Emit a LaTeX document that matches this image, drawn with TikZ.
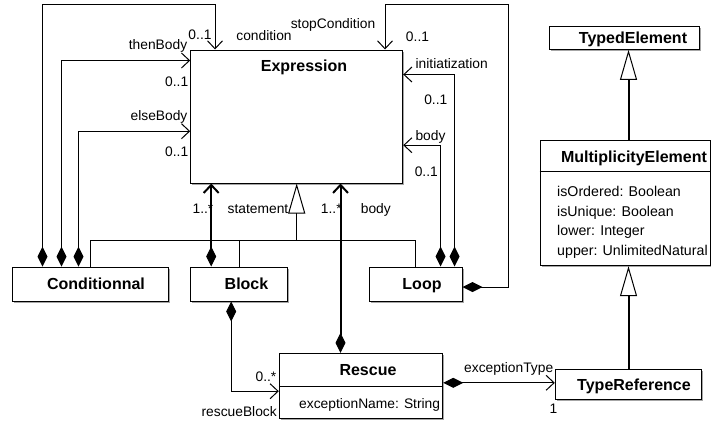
\documentclass[tikz,border=0pt]{standalone}
\usepackage{fontspec}
\setmainfont{Liberation Sans}
\usetikzlibrary{arrows.meta,shadows,calc}
\begin{document}
\begin{tikzpicture}[x=1pt,y=-1pt,
 cls/.style={draw, line width=1pt, fill=white, rectangle, inner sep=0pt,
   drop shadow={shadow xshift=1.5pt,shadow yshift=-1.5pt,opacity=0.35,fill=black}},
 ttl/.style={font=\fontsize{16}{18}\selectfont\bfseries, inner sep=0pt, text height=11.5pt, text depth=0pt},
 attr/.style={font=\fontsize{14.2}{16}\selectfont, inner sep=0pt, text height=10.2pt, text depth=0pt, anchor=west},
 lab/.style={font=\fontsize{13.8}{16}\selectfont, inner sep=0pt, text height=9.9pt, text depth=0pt},
 comp/.style={draw, line width=1pt, {Diamond[length=20pt,width=10pt,line width=1pt]}-{Straight Barb[length=8pt,width=15pt]}},
 compk/.style={comp, line width=2pt},
 gen/.style={draw, line width=1pt, -{Triangle[length=30pt,width=17pt,fill=white,line width=1pt]}},
 genk/.style={gen, line width=2pt},
 plain/.style={draw, line width=1pt}
]
\fill[white] (0,0) rectangle (711,421);
\useasboundingbox (0,0) rectangle (711,421);

% classes
\node[cls, minimum width=212pt, minimum height=133pt] (expr) at (296.7,116.5) {};
\node[ttl] (exprT) at (304,66) {Expression};

\node[cls, minimum width=156pt, minimum height=34pt] (cond) at (90,284) {};
\node[ttl] (condT) at (96,284) {Conditionnal};

\node[cls, minimum width=97pt, minimum height=34pt] (block) at (239.2,284) {};
\node[ttl] (blockT) at (246.5,284) {Block};

\node[cls, minimum width=93pt, minimum height=34pt] (loop) at (415.5,284) {};
\node[ttl] (loopT) at (422,284) {Loop};

\node[cls, minimum width=163.4pt, minimum height=65pt] (resc) at (361,385.8) {};
\node[ttl] (rescT) at (368,370) {Rescue};
\draw[plain] ([yshift=-33.4pt]resc.north west) -- ([yshift=-33.4pt]resc.north east);
\node[attr, font=\fontsize{13.8}{16}\selectfont] (rescA) at (299,403) {exceptionName: String};

\node[cls, minimum width=146.4pt, minimum height=30pt] (tref) at (628.5,384.3) {};
\node[ttl] (trefT) at (634,384.3) {TypeReference};

\node[cls, minimum width=149.7pt, minimum height=23.3pt] (tel) at (624.2,37.7) {};
\node[ttl] (telT) at (633,37.7) {TypedElement};

\node[cls, minimum width=170pt, minimum height=125pt] (me) at (625,203.2) {};
\node[ttl] (meT) at (634,156.5) {MultiplicityElement};
\draw[plain] ([yshift=-31.6pt]me.north west) -- ([yshift=-31.6pt]me.north east);
\node[attr] (meA1) at (557,191.7) {isOrdered: Boolean};
\node[attr] (meA2) at (557,211) {isUnique: Boolean};
\node[attr] (meA3) at (557,230.5) {lower: Integer};
\node[attr] (meA4) at (557,250) {upper: UnlimitedNatural};

% generalizations
\coordinate (gj) at (296.7,240);
\draw[plain] (cond.north) |- (loop.north |- gj) -- (loop.north);
\draw[plain] (block.north) -- (block.north |- gj);
\draw[gen] (gj) -- (expr.south);
\draw[genk] (tref.north) -- (tref.north |- me.south);
\draw[genk] (tref.north |- me.north) -- (tref.north |- tel.south);

% Conditionnal compositions
\coordinate (condTop) at (215,4);
\draw[comp] ([xshift=31pt]cond.north west) |- (condTop) -- (condTop |- expr.north);
\draw[comp] ([xshift=50pt]cond.north west) |- ([yshift=-11pt]expr.north west);
\draw[comp] ([xshift=67pt]cond.north west) |- ([yshift=-81.7pt]expr.north west);

% Block / Rescue
\coordinate (stA) at ([xshift=21pt]block.north west);
\draw[compk] (stA) -- (stA |- expr.south);
\coordinate (bdA) at ([xshift=61.7pt]resc.north west);
\draw[compk] (bdA) -- (bdA |- expr.south);
\draw[comp] ([xshift=41pt]block.south west) |- ([yshift=-38.4pt]resc.north west);
\coordinate (etA) at ([yshift=-30pt]resc.north east);
\draw[comp] (etA) -- (etA -| tref.west);

% Loop compositions
\draw[comp] ([xshift=86pt]loop.north west) |- ([yshift=-25pt]expr.north east);
\draw[comp] ([xshift=72pt]loop.north west) |- ([yshift=-95.7pt]expr.north east);
\coordinate (scA) at (508,4);
\coordinate (scB) at (385,4);
\draw[comp] ([yshift=-3pt]loop.east) -| (scA) -- (scB) -- (scB |- expr.north);

% labels
\node[lab] (l1) at (200,35) {0..1};
\node[lab] (l2) at (264,36) {condition};
\node[lab] (l3) at (158,44.3) {thenBody};
\node[lab] (l4) at (176.7,81.7) {0..1};
\node[lab] (l5) at (159,116) {elseBody};
\node[lab] (l6) at (176.7,151.7) {0..1};
\node[lab] (l7) at (333,23.3) {stopCondition};
\node[lab] (l8) at (417.5,36.7) {0..1};
\node[lab] (l9) at (451.7,63.3) {initiatization};
\node[lab] (l10) at (435.8,100) {0..1};
\node[lab] (l11) at (430.5,136) {body};
\node[lab] (l12) at (426.3,171.7) {0..1};
\node[lab] (l13) at (203,208.3) {1..*};
\node[lab] (l14) at (258,208.3) {statement};
\node[lab] (l15) at (331.3,208.3) {1..*};
\node[lab] (l16) at (375.8,208.3) {body};
\node[lab] (l17) at (266,376.7) {0..*};
\node[lab] (l18) at (239.2,411.7) {rescueBlock};
\node[lab] (l19) at (508.7,367.7) {exceptionType};
\node[lab] (l20) at (553.5,408.3) {1};
\end{tikzpicture}
\end{document}
